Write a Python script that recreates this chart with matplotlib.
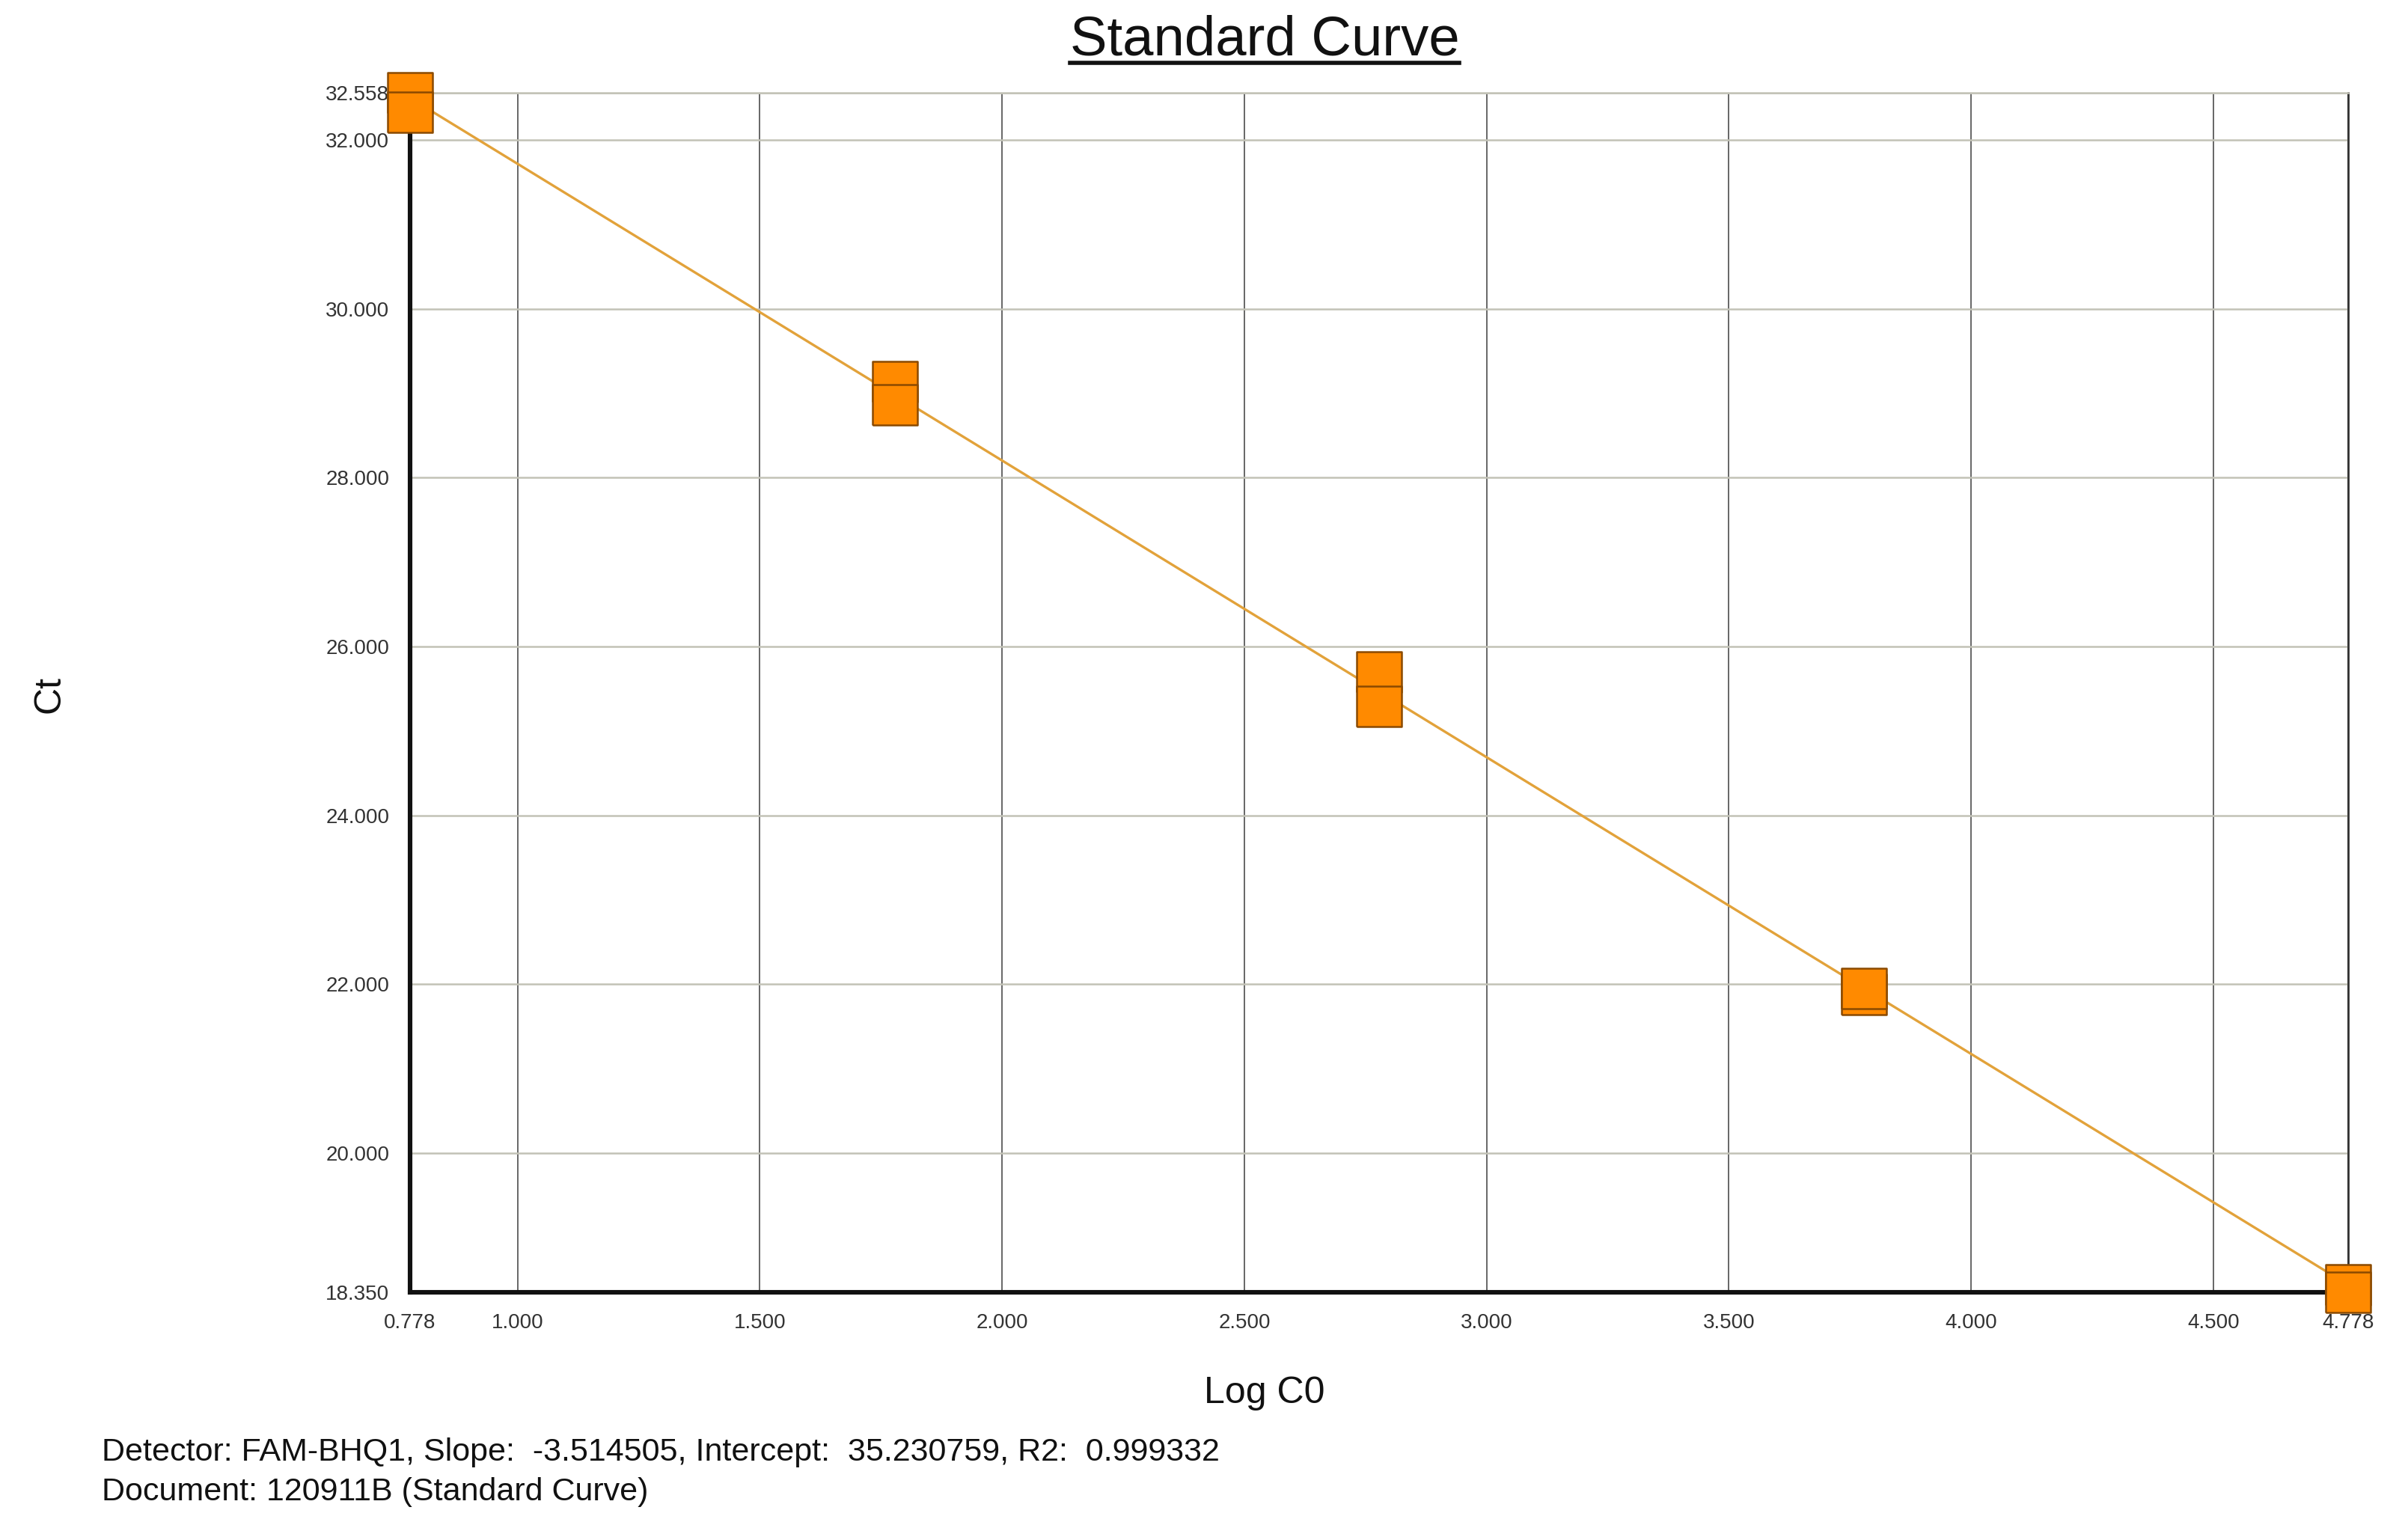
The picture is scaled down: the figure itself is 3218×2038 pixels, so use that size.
import matplotlib
matplotlib.use("Agg")
import matplotlib.pyplot as plt
from matplotlib.lines import Line2D

plt.rcParams['font.family'] = ['Liberation Sans', 'DejaVu Sans']

# ---- data ----
log_c0 = [0.778, 1.778, 2.778, 3.778, 4.778]
ct_rep_a = [32.558, 29.14, 25.70, 21.88, 18.44]
ct_rep_b = [32.33, 28.86, 25.29, 21.95, 18.350]
slope = -3.514505
intercept = 35.230759
r2 = 0.999332
x_ticks = [0.778, 1.0, 1.5, 2.0, 2.5, 3.0, 3.5, 4.0, 4.5, 4.778]
y_ticks = [18.350, 20.0, 22.0, 24.0, 26.0, 28.0, 30.0, 32.0, 32.558]
x_range = (0.778, 4.778)
y_range = (18.350, 32.558)

W, H, DPI = 3218, 2038, 200
fig = plt.figure(figsize=(W / DPI, H / DPI), dpi=DPI)
ax = fig.add_axes([548 / W, 1 - 1727 / H, (3138 - 548) / W, (1727 - 124) / H])

ax.set_xlim(*x_range)
ax.set_ylim(*y_range)
ax.set_xticks(x_ticks)
ax.set_yticks(y_ticks)
ax.set_xticklabels([f"{v:.3f}" for v in x_ticks])
ax.set_yticklabels([f"{v:.3f}" for v in y_ticks])
ax.tick_params(axis='both', length=0, labelsize=10, colors='#333333')
ax.tick_params(axis='x', pad=10)
ax.tick_params(axis='y', pad=10)

ax.xaxis.grid(True, color='#5a5a5a', linewidth=0.65, zorder=0)
ax.yaxis.grid(True, color='#c2c2b6', linewidth=0.9, zorder=0)
ax.set_axisbelow(True)

for side in ('left', 'bottom'):
    ax.spines[side].set_linewidth(2.2)
    ax.spines[side].set_color('#111111')
ax.spines['right'].set_linewidth(1.0)
ax.spines['right'].set_color('#333333')
ax.spines['top'].set_linewidth(0.9)
ax.spines['top'].set_color('#c2c2b6')

# regression line
fit_x = list(x_range)
fit_y = [slope * v + intercept for v in fit_x]
ax.plot(fit_x, fit_y, color='#E2A23A', linewidth=1.2, zorder=3, clip_on=False)

# replicate markers (slightly wider than tall)
rect = [(-1.0, -0.9), (1.0, -0.9), (1.0, 0.9), (-1.0, 0.9), (-1.0, -0.9)]
for reps in (ct_rep_a, ct_rep_b):
    ax.plot(log_c0, reps, linestyle='none', marker=rect, markersize=21.5,
            markerfacecolor='#FF8A00', markeredgecolor='#8A4A00',
            markeredgewidth=0.9, zorder=5, clip_on=False)

# axis labels
fig.text(66 / W, 1 - 928 / H, 'Ct', rotation=90, ha='center', va='center',
         fontsize=18, color='#111111')
fig.text(1690 / W, 1 - 1862 / H, 'Log C0', ha='center', va='center',
         fontsize=18, color='#111111')

# title with underline
t = fig.text(1690 / W, 1 - 74 / H, 'Standard Curve', ha='center', va='baseline',
             fontsize=26.8, color='#111111')
fig.canvas.draw()
bb = t.get_window_extent(fig.canvas.get_renderer())
bbf = bb.transformed(fig.transFigure.inverted())
uy = 1 - 84 / H
fig.add_artist(Line2D([bbf.x0, bbf.x1], [uy, uy], transform=fig.transFigure,
                      color='#111111', linewidth=2.0))

# footer
fig.text(136 / W, 1 - 1952 / H,
         f"Detector: FAM-BHQ1, Slope:  {slope:.6f}, Intercept:  {intercept:.6f}, R2:  {r2:.6f}",
         ha='left', va='baseline', fontsize=15.5, color='#111111')
fig.text(136 / W, 1 - 2005 / H, "Document: 120911B (Standard Curve)",
         ha='left', va='baseline', fontsize=15.5, color='#111111')

fig.savefig('out.png', dpi=DPI)
